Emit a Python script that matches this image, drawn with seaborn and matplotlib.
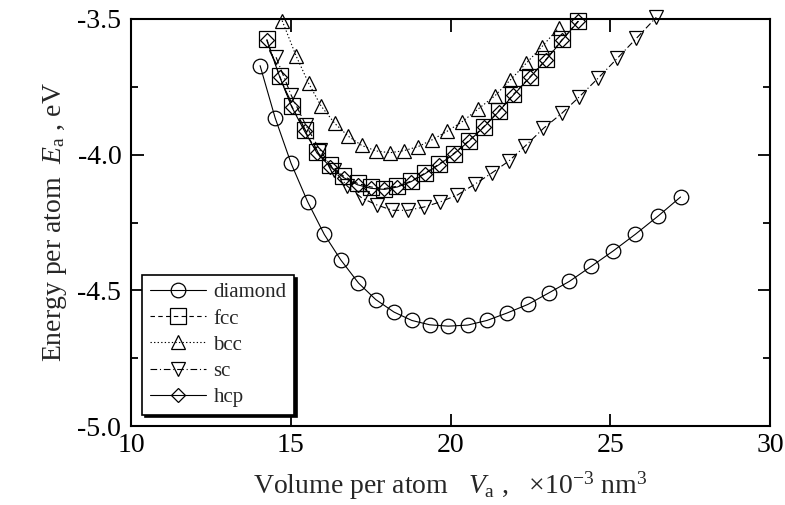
import numpy as np
import matplotlib
matplotlib.use("Agg")
import matplotlib.pyplot as plt
from matplotlib.ticker import MultipleLocator, FormatStrFormatter
import seaborn as sns

# Energy vs volume per atom for several crystal structures
diamond_v = [14.04, 14.51, 15.01, 15.53, 16.05, 16.56, 17.12, 17.66, 18.23, 18.79, 19.35, 19.93,
             20.54, 21.14, 21.76, 22.42, 23.07, 23.72, 24.40, 25.09, 25.79, 26.50, 27.20]
diamond_e = [-3.672, -3.864, -4.032, -4.174, -4.294, -4.387, -4.473, -4.534, -4.580, -4.611, -4.627, -4.632,
             -4.628, -4.611, -4.584, -4.552, -4.510, -4.467, -4.412, -4.355, -4.293, -4.226, -4.156]

fcc_v = [14.25, 14.65, 15.03, 15.43, 15.82, 16.24, 16.65, 17.09, 17.51, 17.92, 18.34, 18.75,
         19.19, 19.64, 20.10, 20.57, 21.04, 21.51, 21.97, 22.49, 22.99, 23.50, 24.00]
fcc_e = [-3.575, -3.710, -3.821, -3.910, -3.990, -4.039, -4.079, -4.106, -4.119, -4.125, -4.116, -4.098,
         -4.069, -4.035, -3.996, -3.949, -3.897, -3.839, -3.778, -3.713, -3.649, -3.575, -3.507]

bcc_v = [14.73, 15.17, 15.56, 15.95, 16.38, 16.80, 17.22, 17.66, 18.10, 18.55, 18.99, 19.43,
         19.89, 20.36, 20.85, 21.38, 21.87, 22.37, 22.86, 23.38]
bcc_e = [-3.506, -3.637, -3.737, -3.821, -3.885, -3.932, -3.966, -3.986, -3.993, -3.985, -3.970, -3.945,
         -3.914, -3.879, -3.833, -3.784, -3.725, -3.663, -3.602, -3.534]

sc_v = [14.54, 15.01, 15.47, 15.91, 16.35, 16.77, 17.24, 17.71, 18.18, 18.67, 19.17, 19.68,
        20.21, 20.76, 21.30, 21.82, 22.34, 22.91, 23.48, 24.03, 24.63, 25.22, 25.82, 26.44]
sc_e = [-3.641, -3.780, -3.891, -3.983, -4.057, -4.116, -4.161, -4.186, -4.205, -4.205, -4.193, -4.174,
        -4.149, -4.109, -4.067, -4.024, -3.968, -3.903, -3.848, -3.787, -3.717, -3.645, -3.571, -3.494]

hcp_v = [14.25, 14.65, 15.03, 15.43, 15.82, 16.24, 16.66, 17.09, 17.51, 17.93, 18.34, 18.76,
         19.19, 19.64, 20.10, 20.57, 21.04, 21.51, 21.97, 22.49, 22.99, 23.50, 24.00]
hcp_e = [-3.578, -3.712, -3.824, -3.913, -3.994, -4.045, -4.085, -4.111, -4.124, -4.128, -4.119, -4.100,
         -4.071, -4.037, -3.998, -3.951, -3.899, -3.841, -3.780, -3.715, -3.651, -3.577, -3.509]

sns.set_theme(style="ticks")
plt.rcParams["font.family"] = ["Liberation Serif", "DejaVu Serif"]
plt.rcParams["mathtext.fontset"] = "custom"
plt.rcParams["mathtext.rm"] = "Liberation Serif"
plt.rcParams["mathtext.it"] = "Liberation Serif:italic"
plt.rcParams["axes.unicode_minus"] = False

fig = plt.figure(figsize=(7.85, 5.05), dpi=100)
ax = fig.add_axes([0.1669, 0.1564, 0.814, 0.806])

# name, x, y, marker, markersize, linestyle
series = [
    ("diamond", diamond_v, diamond_e, "o", 10.5, "-"),
    ("fcc", fcc_v, fcc_e, "s", 11.5, (0, (4, 3))),
    ("bcc", bcc_v, bcc_e, "^", 10.5, (0, (1.2, 2))),
    ("sc", sc_v, sc_e, "v", 10.5, (0, (6, 2.5, 1, 2.5))),
    ("hcp", hcp_v, hcp_e, "D", 7.3, "-"),
]

for name, xs, ys, mk, ms, ls in series:
    sns.lineplot(x=xs, y=ys, ax=ax, sort=False, color="black", linestyle=ls, linewidth=0.8,
                 marker=mk, markersize=ms, markerfacecolor="none", markeredgecolor="black",
                 markeredgewidth=0.9, label=name, clip_on=False)

ax.set_xlim(10, 30)
ax.set_ylim(-5.0, -3.5)
ax.xaxis.set_major_locator(MultipleLocator(5))
ax.yaxis.set_major_locator(MultipleLocator(0.5))
ax.yaxis.set_minor_locator(MultipleLocator(0.25))
ax.yaxis.set_major_formatter(FormatStrFormatter("%.1f"))

ax.tick_params(axis="both", which="both", direction="in", top=True, right=True,
               labelsize=20, colors="black")
ax.tick_params(axis="both", which="major", length=9, width=1.3)
ax.tick_params(axis="y", which="minor", length=5, width=1.3)
ax.tick_params(axis="x", pad=5)
ax.tick_params(axis="y", pad=7)

for sp in ax.spines.values():
    sp.set_linewidth(1.5)
    sp.set_color("black")

ax.set_xlabel(r"Volume per atom   $V_\mathrm{a}$ ,   $\times$10$^{-3}$ nm$^3$", fontsize=20, labelpad=8)
ax.set_ylabel(r"Energy per atom  $E_\mathrm{a}$ , eV", fontsize=20, labelpad=6)

leg = ax.legend(loc="lower left", fontsize=15, frameon=True, fancybox=False,
                shadow={"color": "black", "alpha": 1.0}, handlelength=2.7, handletextpad=0.35,
                labelspacing=0.32, borderpad=0.35, borderaxespad=0.55, edgecolor="black")
leg.get_frame().set_linewidth(1.2)
leg.get_frame().set_alpha(1.0)

fig.savefig("out.png", dpi=100)
